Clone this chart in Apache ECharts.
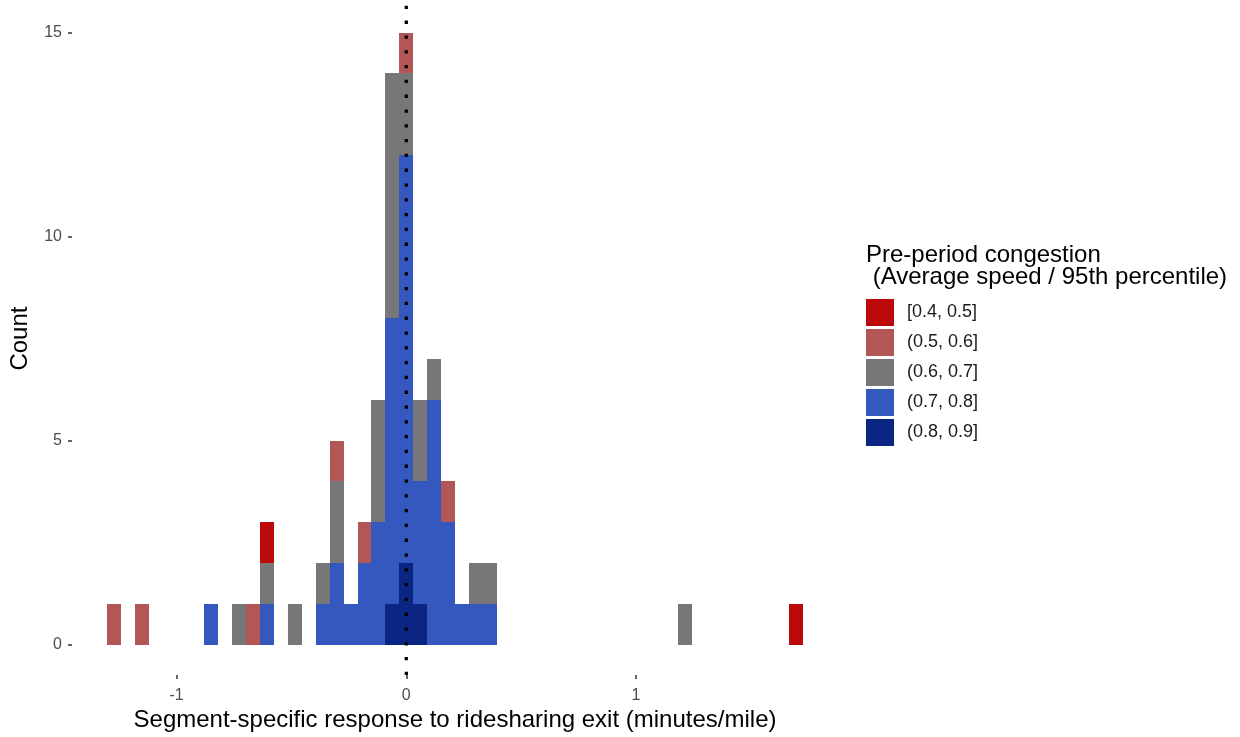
<!DOCTYPE html>
<html>
<head>
<meta charset="utf-8">
<title>Segment-specific response histogram</title>
<script src="https://cdn.jsdelivr.net/npm/echarts@6/dist/echarts.min.js"></script>
<style>
  html, body { margin: 0; padding: 0; background: #fff; }
  #chart { width: 1240px; height: 737px; }
</style>
</head>
<body>
<div id="chart"></div>
<script>
// bin centres (minutes/mile), one entry per non-empty bin
const binCenters = [-1.273, -1.151, -0.848, -0.727, -0.667, -0.606, -0.485, -0.364, -0.303, -0.242, -0.182,
  -0.121, -0.061, 0, 0.061, 0.121, 0.182, 0.242, 0.303, 0.364, 1.212, 1.697]
const binWidth = 0.0606

// counts per congestion group, same order as binCenters
const groupNames = ['[0.4, 0.5]', '(0.5, 0.6]', '(0.6, 0.7]', '(0.7, 0.8]', '(0.8, 0.9]']
const counts45 = [0, 0, 0, 0, 0, 1, 0, 0, 0, 0, 0, 0, 0, 0, 0, 0, 0, 0, 0, 0, 0, 1]
const counts56 = [1, 1, 0, 0, 1, 0, 0, 0, 1, 0, 1, 0, 0, 1, 0, 0, 1, 0, 0, 0, 0, 0]
const counts67 = [0, 0, 0, 1, 0, 1, 1, 1, 2, 0, 0, 3, 6, 2, 2, 1, 0, 0, 1, 1, 1, 0]
const counts78 = [0, 0, 1, 0, 0, 1, 0, 1, 2, 1, 2, 3, 7, 10, 3, 6, 3, 1, 1, 1, 0, 0]
const counts89 = [0, 0, 0, 0, 0, 0, 0, 0, 0, 0, 0, 0, 1, 2, 1, 0, 0, 0, 0, 0, 0, 0]

const yTicks = [0, 5, 10, 15]
const xTicks = [-1, 0, 1]

const groupColors = ['#BC0A0A', '#B25656', '#777777', '#3458BE', '#0A2682']
const fontFamily = '"Liberation Sans", Arial, Helvetica, sans-serif'

const chart = echarts.init(document.getElementById('chart'))

// stack from the bottom: (0.8,0.9] first, [0.4,0.5] on top
const groupCounts = [counts45, counts56, counts67, counts78, counts89]
const stackBase = binCenters.map(() => 0)
const stacked = []
for (let g = groupCounts.length - 1; g >= 0; g--) {
  const rows = []
  binCenters.forEach((x, i) => {
    const c = groupCounts[g][i]
    if (c > 0) rows.push([x, stackBase[i], stackBase[i] + c])
    stackBase[i] += c
  })
  stacked[g] = rows
}

// bins share exact edges (snapped to the bin grid) so neighbours meet without seams
function renderBar(params, api) {
  const k = Math.round(api.value(0) / binWidth)
  const p0 = api.coord([(k - 0.5) * binWidth, api.value(2)])
  const p1 = api.coord([(k + 0.5) * binWidth, api.value(1)])
  const x0 = Math.round(p0[0]), x1 = Math.round(p1[0])
  const y0 = Math.round(p0[1]), y1 = Math.round(p1[1])
  return {
    type: 'rect',
    shape: { x: x0, y: y0, width: x1 - x0, height: y1 - y0 },
    style: { fill: api.visual('color') }
  }
}

const barSeries = groupNames.map((name, g) => ({
  name: name,
  type: 'custom',
  renderItem: renderBar,
  itemStyle: { color: groupColors[g] },
  encode: { x: 0, y: [1, 2] },
  data: stacked[g]
}))

const option = {
  backgroundColor: '#fff',
  animation: false,
  textStyle: { fontFamily: fontFamily },
  grid: { left: 68, right: 402, top: 2, bottom: 58 },
  title: {
    text: 'Pre-period congestion\n (Average speed / 95th percentile)',
    left: 866,
    top: 244,
    padding: 0,
    textStyle: { fontSize: 24, fontWeight: 'normal', color: '#000', lineHeight: 22, fontFamily: fontFamily }
  },
  legend: {
    data: groupNames,
    orient: 'vertical',
    left: 866,
    top: 299,
    icon: 'rect',
    itemWidth: 28,
    itemHeight: 27,
    itemGap: 3,
    padding: 0,
    textStyle: { fontSize: 18, color: '#1a1a1a', padding: [0, 0, 0, 8], fontFamily: fontFamily }
  },
  xAxis: {
    type: 'value',
    min: -1.455,
    max: 1.879,
    name: 'Segment-specific response to ridesharing exit (minutes/mile)',
    nameLocation: 'middle',
    nameGap: 31,
    nameTextStyle: { fontSize: 24, color: '#000' },
    splitLine: { show: false },
    axisLine: { show: false, onZero: false },
    axisTick: { show: true, customValues: xTicks, length: 4, lineStyle: { color: '#333', width: 1.5 } },
    axisLabel: { customValues: xTicks, fontSize: 16, color: '#4d4d4d', margin: 12 }
  },
  yAxis: {
    type: 'value',
    min: -0.75,
    max: 15.75,
    name: 'Count',
    nameLocation: 'middle',
    nameGap: 40,
    nameTextStyle: { fontSize: 24, color: '#000' },
    splitLine: { show: false },
    axisLine: { show: false, onZero: false },
    axisTick: { show: true, customValues: yTicks, length: 4, lineStyle: { color: '#333', width: 1.5 } },
    axisLabel: { customValues: yTicks, fontSize: 16, color: '#4d4d4d', margin: 10 }
  },
  series: barSeries.concat([
    {
      name: 'zero',
      type: 'line',
      data: [[0, -0.75], [0, 15.75]],
      symbol: 'none',
      silent: true,
      z: 5,
      lineStyle: { color: '#000', width: 3.3, type: [3.3, 11.5], cap: 'butt' }
    }
  ])
}

chart.setOption(option)
</script>
</body>
</html>
